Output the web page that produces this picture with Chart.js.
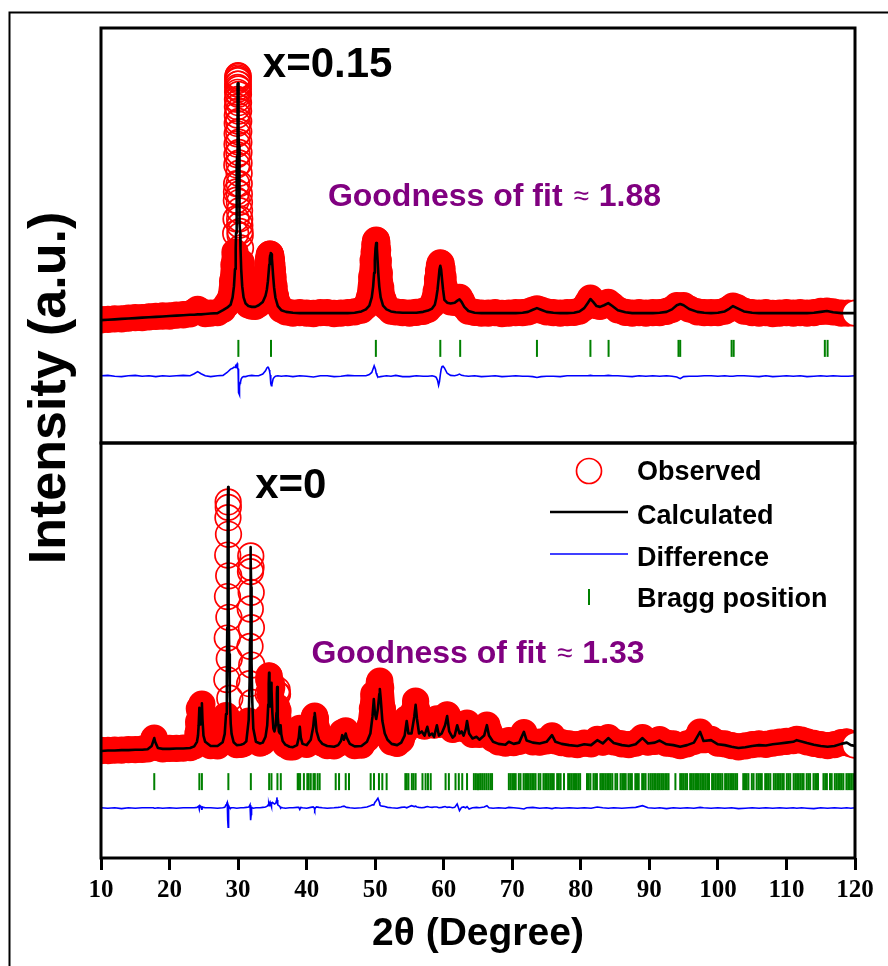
<!DOCTYPE html>
<html>
<head>
<meta charset="utf-8">
<title>Rietveld refinement, x = 0 and x = 0.15</title>
<script src="https://cdn.jsdelivr.net/npm/chart.js@4.4.1/dist/chart.umd.min.js"></script>
<style>
  html, body { margin: 0; padding: 0; background: #fff; }
  canvas { display: block; }
</style>
</head>
<body>
<canvas id="xrdChart" width="888" height="966"></canvas>
<script>
// ---- x = 0.15 pattern (upper panel) ----
const theta015 = [
  10, 11, 12, 13, 14, 15, 16, 17, 18, 19,
  20, 21, 22, 23, 23.6, 24.1, 24.6, 25.2, 26, 27,
  27.8, 28.4, 28.9, 29.2, 29.4, 29.55, 29.65, 29.7, 29.75, 29.77,
  29.79, 29.82, 29.835, 29.85, 29.865, 29.88, 29.89, 29.905, 29.915, 29.93,
  29.94, 29.95, 29.96, 29.97, 29.985, 30.0, 30.015, 30.03, 30.04, 30.05,
  30.06, 30.07, 30.085, 30.095, 30.11, 30.12, 30.135, 30.15, 30.165, 30.18,
  30.195, 30.21, 30.23, 30.25, 30.275, 30.3, 30.35, 30.45, 30.6,
  30.8, 31.1, 31.5, 32, 32.5, 33, 33.6, 34.0, 34.2, 34.35,
  34.45, 34.55, 34.62, 34.68, 34.74, 34.8, 34.86, 34.93, 35.0, 35.1,
  35.25, 35.45, 35.8, 36.3, 37, 38, 39, 40, 41, 42,
  43, 44, 45, 46, 47, 48, 48.65, 49.15, 49.5, 49.7,
  49.85, 49.95, 50.05, 50.15, 50.25, 50.35, 50.45, 50.6, 50.8, 51.15,
  51.65, 52.3, 53, 54, 55, 56, 57, 57.7, 58.3, 58.7,
  58.9, 59.1, 59.25, 59.38, 59.5, 59.62, 59.75, 59.9, 60.1, 60.5,
  61, 61.6, 62, 62.3, 62.6, 63, 63.6, 64.5, 65.5, 66.5,
  67.5, 68.5, 69.5, 70.5, 71.5, 72.3, 73, 73.6, 74.2, 75,
  76, 77, 78, 79, 79.8, 80.5, 81, 81.4, 81.8, 82.3,
  82.8, 83.4, 84, 84.6, 85.4, 86.5, 87.5, 88.5, 89.5, 90.5,
  91.5, 92.5, 93.3, 94, 94.5, 95, 95.8, 97, 98, 99,
  100, 101, 101.7, 102.2, 102.8, 103.8, 105, 106, 107, 108,
  109, 110, 111, 112, 113, 114, 115, 115.9, 116.8, 118,
  119, 120
];
const obs015 = [
  297, 298, 299, 299, 301, 302, 302, 304, 305, 306,
  306, 308, 309, 311, 316, 322, 317, 312, 313, 314,
  322, 335, 350, 390, 430, 460, 505, 540, 585, 605,
  625, 670, 695, 720, 745, 770, 790, 810, 828, 845,
  857, 865, 873, 880, 884, 885, 876, 865, 853, 840,
  820, 800, 775, 750, 725, 700, 675, 650, 625, 600,
  580, 560, 540, 525, 510, 500, 470, 435, 400,
  370, 345, 333, 330, 329, 335, 355, 380, 410, 432,
  445, 453, 455, 455, 452, 448, 440, 430, 418, 400,
  378, 355, 335, 322, 316, 313, 314, 313, 312, 314,
  314, 312, 313, 314, 316, 320, 330, 350, 400, 440,
  460, 478, 487, 489, 482, 465, 440, 410, 375, 345,
  328, 318, 316, 314, 313, 315, 317, 322, 332, 348,
  365, 395, 415, 428, 434, 432, 420, 400, 375, 350,
  340, 339, 346, 351, 342, 329, 318, 315, 313, 313,
  314, 312, 313, 314, 314, 316, 320, 323, 320, 316,
  314, 313, 314, 315, 318, 326, 338, 349, 341, 331,
  329, 333, 339, 331, 321, 315, 313, 314, 313, 314,
  314, 317, 322, 331, 330, 331, 323, 316, 314, 314,
  314, 318, 324, 330, 326, 318, 314, 313, 314, 312,
  313, 314, 313, 314, 313, 314, 317, 318, 316, 313,
  313, 313
];
const calc015 = [
  296, 297, 298, 299, 300, 301, 302, 303, 304, 305,
  306, 307, 308, 309, 309, 310, 310, 311, 312, 313,
  320, 326, 333, 351, 378, 419, 469, 506, 554, 577,
  602, 645, 667, 691, 715, 740, 756, 780, 795, 816,
  829, 840, 849, 857, 865, 867, 865, 857, 849, 840,
  829, 816, 795, 780, 756, 740, 715, 691, 667, 645,
  623, 602, 577, 554, 529, 506, 469, 419, 378,
  351, 336, 330, 328, 328, 332, 340, 355, 370, 390,
  410, 430, 443, 452, 457, 458, 455, 445, 430, 405,
  375, 350, 330, 320, 316, 314, 313, 313, 313, 313,
  313, 313, 313, 313, 314, 317, 322, 331, 351, 377,
  410, 440, 469, 482, 469, 440, 410, 377, 351, 331,
  322, 317, 315, 314, 314, 314, 316, 319, 324, 333,
  348, 370, 395, 418, 427, 418, 395, 370, 345, 338,
  336, 338, 343, 346, 340, 328, 318, 314, 313, 313,
  313, 313, 313, 313, 314, 316, 321, 325, 321, 316,
  314, 313, 313, 314, 317, 325, 337, 347, 340, 330,
  328, 332, 337, 330, 320, 315, 313, 313, 313, 313,
  314, 316, 322, 332, 335, 332, 323, 316, 314, 313,
  314, 317, 324, 330, 325, 317, 314, 313, 313, 313,
  313, 313, 313, 313, 313, 314, 316, 318, 315, 313,
  313, 313
];
const diff015 = [
  1, 2, 0, -1, 1, 2, 0, 1, -1, 1,
  0, 1, 2, 1, 6, 11, 6, 1, -1, 1,
  2, 9, 17, 19, 22, 21, 26, 26, 26, 27,
  23, 25, 27, 29, 29, 30, 31, 30, 30, 29,
  27, 25, 24, 23, 20, 18, 12, 8, 4, 0,
  -8, -16, -24, -30, -36, -40, -42, -41, -44, -45,
  -44, -42, -38, -34, -24, -16, -14, -7, -3,
  -1, -1, 1, 2, 1, 1, 5, 13, 20, 22,
  20, 15, 9, 3, -7, -18, -23, -20, -15, -7,
  -3, 0, 1, 0, 1, -1, 1, 0, -2, 1,
  1, -1, 0, 2, 1, 1, 1, 4, 9, 18,
  25, 25, 16, 7, 3, 0, -2, -2, -1, 0,
  1, 0, 2, -1, -1, 1, 0, 0, 1, -1,
  -3, -10, -22, -13, 3, 16, 23, 24, 20, 7,
  2, 1, 3, 5, 2, 1, 0, 1, -1, 0,
  1, -1, 0, 1, 0, 0, -1, -3, -1, 0,
  0, -1, 1, 1, 1, 1, 1, 2, 1, 1,
  1, 1, 2, 1, 1, 0, -1, 1, 0, 1,
  0, 1, 0, -2, -6, -1, 0, 0, 1, 1,
  0, 1, 0, 0, 1, 1, 0, -1, 1, -1,
  0, 1, 0, 1, -1, 0, 1, 0, 1, 0,
  0, 1
];
const bragg015 = [30.04, 34.8, 50.1, 59.5, 62.4, 73.6, 81.4, 84.05, 94.25, 94.5, 102.0, 102.3, 115.6, 116.0];

// ---- x = 0 pattern (lower panel) ----
const theta0 = [
  10, 11, 12, 13, 14, 15, 16, 16.8, 17.4, 17.65,
  17.77, 17.9, 18.3, 19, 20, 21, 22, 23, 23.6, 24.0,
  24.15, 24.25, 24.35, 24.45, 24.55, 24.65, 24.72, 24.8, 24.95, 25.2,
  26, 27, 27.75, 28.05, 28.24, 28.36, 28.42, 28.455, 28.49, 28.52,
  28.55, 28.57, 28.6, 28.63, 28.66, 28.71, 28.79, 28.925, 29.05, 29.35,
  29.8, 30.4, 30.8, 31.2, 31.55, 31.68, 31.74, 31.78, 31.81, 31.85,
  31.88, 31.91, 31.94, 31.99, 32.07, 32.22, 32.6, 33.2, 33.6, 34.0,
  34.25, 34.4, 34.47, 34.52, 34.58, 34.66, 34.75, 34.81, 34.85, 34.9,
  35.0, 35.15, 35.3, 35.5, 35.6, 35.66, 35.7, 35.75, 35.82, 35.95,
  36.1, 36.2, 36.3, 36.5, 36.9, 37.5, 38.0, 38.6, 38.85, 39.0,
  39.15, 39.4, 40.0, 40.6, 40.95, 41.1, 41.18, 41.28, 41.45, 41.8,
  42.3, 43.0, 44.0, 44.6, 45.0, 45.2, 45.45, 45.7, 45.85, 46.3,
  47, 48, 48.8, 49.3, 49.6, 49.8, 49.95, 50.15, 50.4, 50.6,
  50.68, 50.8, 51.05, 51.4, 51.8, 52.4, 53.2, 53.8, 54.3, 54.6,
  54.85, 55.3, 55.7, 55.9, 56.1, 56.4, 56.8, 57.2, 57.6, 57.9,
  58.3, 58.6, 59.0, 59.3, 59.7, 60.2, 60.5, 60.8, 61.3, 61.6,
  61.96, 62.3, 62.6, 62.9, 63.2, 63.4, 63.7, 64.2, 64.8, 65.2,
  65.9, 66.3, 66.6, 67.2, 68, 69, 69.5, 70.2, 71, 71.7,
  72.1, 73, 74, 75, 75.8, 76.3, 77.2, 78.3, 79.5, 80.5,
  81.5, 82.4, 83.2, 84, 84.8, 86, 87, 88, 89, 89.8,
  90.8, 91.5, 92.5, 93.5, 94.5, 95.5, 96.5, 97.4, 97.9, 99,
  100, 101, 102, 103, 104, 105, 106, 107, 108, 109,
  110, 111, 111.5, 112.2, 113, 114, 115, 116, 117, 118,
  118.8, 119.4, 120
];
const obs0 = [
  259, 259, 260, 260, 261, 261, 262, 263, 271, 284,
  289, 280, 266, 263, 264, 264, 265, 266, 270, 283,
  300, 328, 360, 335, 340, 358, 371, 340, 300, 282,
  271, 270, 280, 301, 343, 430, 530, 630, 730, 820,
  858, 845, 780, 680, 580, 480, 385, 320, 300, 281,
  273, 274, 276, 283, 330, 420, 510, 600, 690, 728,
  700, 640, 555, 465, 375, 310, 282, 277, 280, 300,
  340, 395, 430, 439, 425, 395, 400, 415, 420, 410,
  370, 335, 320, 335, 365, 395, 405, 395, 355, 320,
  310, 318, 300, 284, 274, 268, 268, 274, 292, 312,
  294, 278, 274, 290, 320, 338, 342, 336, 312, 290,
  277, 271, 270, 276, 290, 302, 298, 306, 296, 280,
  271, 272, 288, 320, 360, 395, 380, 375, 395, 422,
  426, 410, 360, 320, 295, 280, 276, 285, 305, 335,
  320, 325, 355, 378, 355, 325, 320, 318, 330, 322,
  325, 320, 335, 322, 330, 338, 345, 325, 310, 312,
  322, 315, 318, 312, 318, 325, 310, 298, 300, 298,
  305, 320, 305, 288, 280, 277, 283, 278, 281, 302,
  285, 280, 279, 282, 294, 282, 278, 275, 273, 277,
  275, 286, 279, 290, 280, 275, 273, 277, 290, 279,
  281, 285, 277, 275, 271, 275, 281, 303, 285, 286,
  277, 275, 271, 268, 270, 273, 275, 274, 277, 279,
  281, 283, 286, 284, 280, 276, 273, 271, 273, 278,
  280, 275, 272
];
const calc0 = [
  258, 259, 259, 260, 260, 261, 261, 262, 270, 283,
  289, 280, 265, 263, 263, 264, 264, 265, 269, 280,
  295, 320, 362, 322, 330, 350, 373, 335, 295, 280,
  270, 270, 279, 299, 347, 444, 555, 652, 768, 857,
  894, 877, 801, 701, 607, 491, 391, 323, 299, 279,
  272, 273, 275, 281, 333, 427, 528, 626, 701, 749,
  721, 652, 575, 471, 377, 312, 280, 276, 278, 292,
  320, 370, 420, 446, 415, 365, 375, 410, 422, 405,
  350, 312, 305, 320, 350, 395, 412, 390, 340, 305,
  300, 320, 298, 282, 273, 268, 267, 272, 290, 316,
  290, 275, 272, 285, 315, 340, 349, 335, 305, 285,
  275, 270, 268, 272, 282, 296, 285, 300, 290, 275,
  269, 270, 280, 300, 340, 383, 350, 335, 360, 395,
  407, 385, 330, 300, 285, 275, 272, 278, 295, 330,
  300, 300, 340, 369, 335, 300, 305, 295, 316, 295,
  300, 292, 320, 295, 300, 320, 342, 305, 290, 295,
  320, 300, 305, 295, 310, 330, 300, 288, 292, 285,
  295, 320, 295, 280, 275, 273, 280, 275, 278, 304,
  283, 278, 276, 280, 296, 280, 275, 272, 270, 274,
  272, 284, 276, 289, 277, 272, 270, 274, 289, 276,
  278, 283, 274, 272, 268, 272, 278, 304, 282, 284,
  274, 272, 268, 265, 267, 270, 272, 271, 274, 276,
  278, 280, 284, 281, 277, 273, 270, 268, 270, 275,
  278, 272, 270
];
const diff0 = [
  1, 0, 1, -1, 1, 0, 1, 1, 1, 1,
  0, 0, 1, 0, 1, 0, 1, 1, 1, 2,
  4, 5, -3, 6, 4, 3, -4, 3, 2, 1,
  1, 0, 1, 2, 8, 12, 14, 10, -10, -30,
  -46, -30, -12, 4, 6, 3, 1, 0, 1, 1,
  0, 1, 1, 2, 3, 6, 8, 5, -5, -20,
  -29, -15, -4, 2, 1, 0, 1, 1, 2, 3,
  5, 8, 10, 6, 12, 15, 10, 8, 4, 10,
  14, 12, 10, 12, 18, 26, 20, 10, 8, 6,
  4, 0, 2, 1, 0, 1, 1, 2, 2, -3,
  2, 1, 0, 2, 3, 1, -4, 1, 3, 2,
  1, 0, 1, 2, 3, 4, 5, 3, 2, 1,
  0, 1, 3, 6, 8, 8, 14, 18, 24, 15,
  8, 6, 5, 4, 2, 1, 0, 2, 3, 1,
  3, 6, 4, 5, 3, 2, 1, 2, 4, 3,
  2, 3, 3, 1, 2, 4, 2, 3, 1, 2,
  10, -6, 2, 3, 1, 4, -2, 1, 2, 1,
  3, 6, 1, 0, 1, 0, 2, 1, 0, -2,
  1, 2, 0, 1, -1, 1, 0, 1, 0, 1,
  0, 3, 1, 0, 1, 0, 1, 2, 6, 1,
  0, 1, -1, 1, 0, 1, 0, 2, 1, 0,
  1, 0, 1, -1, 0, 1, 0, 1, 0, 1,
  0, 1, 0, 1, 0, -1, 1, 0, 1, 0,
  1, 0, 1
];
const bragg0 = [
  17.77, 24.35, 24.72, 28.58, 31.86, 34.53, 34.87, 35.74, 36.23,
  38.7, 38.85, 39.05, 39.6, 40.1, 40.3, 40.6, 41.0, 41.2, 41.6, 41.9,
  44.24, 44.73, 45.7, 46.18,
  49.34, 49.83, 50.55, 51.04, 51.67,
  54.4, 54.6, 54.85, 55.35, 55.6, 55.9, 56.9, 57.35, 57.7, 58.1,
  60.27, 60.75, 61.72, 62.2, 62.7, 63.4,
  64.4, 64.7, 65.0, 65.3, 65.6, 65.9, 66.2, 66.5, 66.8, 67.05,
  69.5, 69.75, 70.0, 70.25, 70.5, 70.95, 71.2, 71.65, 71.9, 72.15,
  72.4, 72.65, 72.9, 73.15, 73.4, 73.85, 74.1, 74.55, 74.8, 75.05,
  75.3, 75.55, 75.8, 76.05, 76.55, 76.8, 77.05, 77.55, 78.15, 78.4,
  78.65, 78.9, 79.15, 79.4, 79.65, 79.9,
  80.9, 81.15, 81.4, 81.85, 82.1, 82.35, 82.85, 83.1, 83.35, 83.6,
  83.85, 84.1, 84.35, 84.6, 85.05, 85.3,
  85.8, 86.05, 86.3, 86.55, 86.95, 87.2, 87.45, 87.95, 88.2, 88.45,
  88.95, 89.2, 89.45,
  89.9, 90.2, 90.45, 90.7, 90.95, 91.25, 91.5, 91.75, 92.0, 92.3, 92.55, 92.8,
  93.8,
  94.5, 94.75, 95.0, 95.25, 95.5, 95.95, 96.2, 96.45, 96.7, 96.95,
  97.2, 97.45, 97.7, 97.95, 98.2, 98.45, 98.7, 99.15, 99.4, 99.65,
  99.9, 100.15, 100.4, 100.65, 101.05, 101.3, 101.55, 101.8, 102.05, 102.3,
  102.55, 102.8,
  103.7, 103.95, 104.2, 104.45, 104.95, 105.2, 105.65, 105.9, 106.15, 106.4,
  106.9, 107.15, 107.4, 107.65, 108.15, 108.4, 108.65, 108.9, 109.15, 109.4,
  109.6, 110.05, 110.3, 110.55, 111.05, 111.3, 111.55, 111.8, 112.05, 112.3,
  112.5, 112.95, 113.2, 113.45, 113.95, 114.2, 114.45, 114.6,
  115.4, 115.65, 115.9, 116.35, 116.6, 117.05, 117.3, 117.55, 117.8, 118.05,
  118.3, 118.75, 119.0, 119.25, 119.5, 119.75
];

const xTicks = [10, 20, 30, 40, 50, 60, 70, 80, 90, 100, 110, 120];

// vertical placement of the tick rows and residual curves inside each panel
const braggRow015 = 228, diffZero015 = 161;
const braggRow0 = 184, diffZero0 = 120;

const RED = '#ff0000';
const sans = '"Liberation Sans", Arial, Helvetica, sans-serif';
const serif = '"Liberation Serif", "Times New Roman", Times, serif';

function pts(xs, ys, shift) {
  return xs.map((x, i) => ({ x: x, y: ys[i] + (shift || 0) }));
}
function tickRow(xs, level) {
  return xs.map(x => ({ x: x, y: level }));
}

// sharp reflections (closely sampled or rising fast) are left to the circles alone
function steep(seg) {
  const dx = Math.abs(seg.p1.x - seg.p0.x);
  const dy = Math.abs(seg.p1.y - seg.p0.y);
  return dx < 0.35 || dy > 10 * dx + 6;
}

function observedSet(xs, ys, axis) {
  const last = xs.length - 1;
  return {
    label: 'Observed', yAxisID: axis, order: 4, data: pts(xs, ys),
    borderColor: RED, borderWidth: 26, borderCapStyle: 'round', borderJoinStyle: 'round',
    segment: { borderColor: s => steep(s) ? 'rgba(255,0,0,0)' : RED },
    pointRadius: 12.8, pointBorderWidth: 1.7, pointBorderColor: RED,
    pointBackgroundColor: c => c.dataIndex === last ? '#ffffff' : 'rgba(255,255,255,0)'
  };
}
function calcSet(xs, ys, axis) {
  return {
    label: 'Calculated', yAxisID: axis, order: 1, data: pts(xs, ys),
    borderColor: '#000', borderWidth: 2.6, borderJoinStyle: 'round', pointRadius: 0
  };
}
function diffSet(xs, ys, zero, axis) {
  return {
    label: 'Difference', yAxisID: axis, order: 2, data: pts(xs, ys, zero),
    borderColor: '#0000ff', borderWidth: 1.6, pointRadius: 0
  };
}
function braggSet(xs, level, axis) {
  return {
    label: 'Bragg position', yAxisID: axis, order: 3, data: tickRow(xs, level),
    showLine: false, pointStyle: 'line', pointRotation: 90, pointRadius: 8.5,
    pointBorderWidth: 2, pointBorderColor: 'rgb(0,128,0)'
  };
}

function panelAxis() {
  return {
    type: 'linear', position: 'left', stack: 'panels', stackWeight: 1,
    min: 0, max: 1000,
    ticks: { display: false },
    grid: { display: false, drawTicks: false },
    border: { display: false },
    afterFit: s => { s.width = 0; }
  };
}

function fitLabel(ctx, x, y, value) {
  const head = 'Goodness of fit ';
  ctx.fillStyle = '#800080';
  ctx.font = 'bold 32px ' + sans;
  ctx.fillText(head, x, y);
  let cx = x + ctx.measureText(head).width + 2;
  ctx.font = '28px ' + sans;
  ctx.fillText('\u2248', cx, y - 1);
  cx += ctx.measureText('\u2248').width + 10;
  ctx.font = 'bold 32px ' + sans;
  ctx.fillText(value, cx, y);
}

const panelDecor = {
  id: 'panelDecor',
  afterDatasetsDraw(chart) {
    const { ctx, chartArea: a } = chart;
    const split = chart.scales.yTop.bottom;
    ctx.save();
    ctx.strokeStyle = '#000';
    ctx.lineWidth = 3;
    ctx.strokeRect(a.left, a.top, a.right - a.left, split - a.top);
    ctx.strokeRect(a.left, split, a.right - a.left, a.bottom - split);
    // page frame
    ctx.lineWidth = 2;
    ctx.beginPath();
    ctx.moveTo(9.5, chart.height);
    ctx.lineTo(9.5, 12.5);
    ctx.lineTo(chart.width, 12.5);
    ctx.stroke();
    ctx.restore();
  },
  afterDraw(chart) {
    const { ctx, chartArea: a } = chart;
    const { x, yTop, yBottom } = chart.scales;
    const split = yTop.bottom;
    ctx.save();
    ctx.textBaseline = 'alphabetic';
    ctx.textAlign = 'left';

    // shared intensity title
    ctx.save();
    ctx.fillStyle = '#000';
    ctx.translate(65, 388);
    ctx.rotate(-Math.PI / 2);
    ctx.textAlign = 'center';
    ctx.font = 'bold 52px ' + sans;
    ctx.fillText('Intensity (a.u.)', 0, 0);
    ctx.restore();

    // composition labels
    ctx.fillStyle = '#000';
    ctx.font = 'bold 42px ' + sans;
    ctx.fillText('x=0.15', x.getPixelForValue(33.6), yTop.getPixelForValue(882));
    ctx.fillText('x=0', x.getPixelForValue(32.5), yBottom.getPixelForValue(867));

    fitLabel(ctx, x.getPixelForValue(43.1), yTop.getPixelForValue(571), '1.88');
    fitLabel(ctx, x.getPixelForValue(40.7), yBottom.getPixelForValue(470), '1.33');

    // legend in the lower panel
    const mx = a.right - 266, tx = a.right - 218;
    const rows = [split + 37, split + 81, split + 123, split + 164];
    ctx.lineCap = 'butt';
    ctx.strokeStyle = RED;
    ctx.lineWidth = 1.7;
    ctx.beginPath();
    ctx.arc(mx, rows[0] - 9, 12.5, 0, Math.PI * 2);
    ctx.stroke();
    ctx.strokeStyle = '#000';
    ctx.lineWidth = 2.6;
    ctx.beginPath();
    ctx.moveTo(mx - 39, rows[1] - 12);
    ctx.lineTo(mx + 39, rows[1] - 12);
    ctx.stroke();
    ctx.strokeStyle = '#0000ff';
    ctx.lineWidth = 1.6;
    ctx.beginPath();
    ctx.moveTo(mx - 39, rows[2] - 12);
    ctx.lineTo(mx + 39, rows[2] - 12);
    ctx.stroke();
    ctx.strokeStyle = 'rgb(0,128,0)';
    ctx.lineWidth = 2;
    ctx.beginPath();
    ctx.moveTo(mx, rows[3] - 18);
    ctx.lineTo(mx, rows[3] - 2);
    ctx.stroke();

    ctx.fillStyle = '#000';
    ctx.font = 'bold 27px ' + sans;
    ['Observed', 'Calculated', 'Difference', 'Bragg position'].forEach((t, i) => {
      ctx.fillText(t, tx, rows[i]);
    });
    ctx.restore();
  }
};

new Chart(document.getElementById('xrdChart'), {
  type: 'line',
  data: {
    datasets: [
      observedSet(theta015, obs015, 'yTop'),
      calcSet(theta015, calc015, 'yTop'),
      diffSet(theta015, diff015, diffZero015, 'yTop'),
      braggSet(bragg015, braggRow015, 'yTop'),
      observedSet(theta0, obs0, 'yBottom'),
      calcSet(theta0, calc0, 'yBottom'),
      diffSet(theta0, diff0, diffZero0, 'yBottom'),
      braggSet(bragg0, braggRow0, 'yBottom')
    ]
  },
  options: {
    responsive: false,
    animation: false,
    devicePixelRatio: 1,
    events: [],
    layout: { padding: { left: 101, right: 33, top: 28, bottom: 0 } },
    plugins: { legend: { display: false }, tooltip: { enabled: false } },
    elements: { line: { tension: 0 } },
    scales: {
      x: {
        type: 'linear', position: 'bottom', min: 10, max: 120,
        afterBuildTicks: s => { s.ticks = xTicks.map(v => ({ value: v })); },
        afterFit: s => { s.height = 108; },
        ticks: {
          autoSkip: false, maxRotation: 0, padding: 6, color: '#000',
          font: { family: serif, size: 25, weight: 'bold' }
        },
        grid: { drawOnChartArea: false, drawTicks: true, tickLength: 12, tickWidth: 3, tickColor: '#000' },
        border: { display: false },
        title: {
          display: true, text: '2\u03b8 (Degree)', color: '#000',
          font: { family: sans, size: 39, weight: 'bold' },
          padding: { top: 0, bottom: 8 }
        }
      },
      yBottom: panelAxis(),
      yTop: panelAxis()
    }
  },
  plugins: [panelDecor]
});
</script>
</body>
</html>
